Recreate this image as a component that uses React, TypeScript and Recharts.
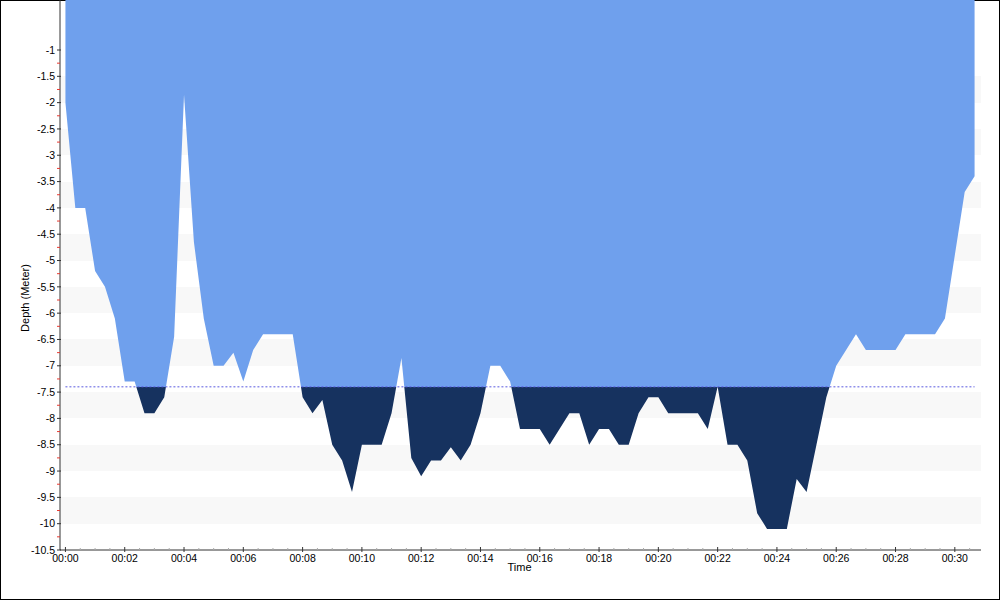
import React from 'react';
import { ComposedChart, Area, XAxis, YAxis, CartesianGrid, ReferenceLine } from 'recharts';

// Time of each sample, in seconds from the start of the dive
const timeSec = [
  0, 20, 40, 60, 80, 100, 120, 140, 160, 180, 200, 220, 240, 260, 280, 300, 320, 340, 360, 380,
  400, 420, 440, 460, 480, 500, 520, 540, 560, 580, 600, 620, 640, 660, 680, 700, 720, 740, 760, 780,
  800, 820, 840, 860, 880, 900, 920, 940, 960, 980, 1000, 1020, 1040, 1060, 1080, 1100, 1120, 1140, 1160, 1180,
  1200, 1220, 1240, 1260, 1280, 1300, 1320, 1340, 1360, 1380, 1400, 1420, 1440, 1460, 1480, 1500, 1520, 1540, 1560, 1580,
  1600, 1620, 1640, 1660, 1680, 1700, 1720, 1740, 1760, 1780, 1800, 1820, 1840,
];

// Depth in meters
const depth = [
  -2.0, -4.0, -4.0, -5.2, -5.5, -6.1, -7.3, -7.3, -7.9, -7.9,
  -7.6, -6.45, -1.85, -4.65, -6.1, -7.0, -7.0, -6.75, -7.3, -6.7,
  -6.4, -6.4, -6.4, -6.4, -7.6, -7.9, -7.65, -8.5, -8.8, -9.4,
  -8.5, -8.5, -8.5, -7.9, -6.85, -8.75, -9.1, -8.8, -8.8, -8.55,
  -8.8, -8.5, -7.9, -7.0, -7.0, -7.3, -8.2, -8.2, -8.2, -8.5,
  -8.2, -7.9, -7.9, -8.5, -8.2, -8.2, -8.5, -8.5, -7.9, -7.6,
  -7.6, -7.9, -7.9, -7.9, -7.9, -8.2, -7.4, -8.5, -8.5, -8.8,
  -9.8, -10.1, -10.1, -10.1, -9.15, -9.4, -8.5, -7.6, -7.0, -6.7,
  -6.4, -6.7, -6.7, -6.7, -6.7, -6.4, -6.4, -6.4, -6.4, -6.1,
  -4.9, -3.7, -3.4,
];

const threshold = -7.4;

const yMajorTicks = [
  -1, -1.5, -2, -2.5, -3, -3.5, -4, -4.5, -5, -5.5, -6, -6.5, -7, -7.5, -8, -8.5, -9, -9.5, -10, -10.5,
];
const yMinorTicks = [
  -1.25, -1.75, -2.25, -2.75, -3.25, -3.75, -4.25, -4.75, -5.25, -5.75, -6.25, -6.75, -7.25, -7.75,
  -8.25, -8.75, -9.25, -9.75, -10.25,
];
const xMajorTicks = [0, 120, 240, 360, 480, 600, 720, 840, 960, 1080, 1200, 1320, 1440, 1560, 1680, 1800];
const xTickLabels = [
  '00:00', '00:02', '00:04', '00:06', '00:08', '00:10', '00:12', '00:14',
  '00:16', '00:18', '00:20', '00:22', '00:24', '00:26', '00:28', '00:30',
];
const xMinorTicks = [
  30, 60, 90, 150, 180, 210, 270, 300, 330, 390, 420, 450, 510, 540, 570, 630, 660, 690, 750, 780, 810,
  870, 900, 930, 990, 1020, 1050, 1110, 1140, 1170, 1230, 1260, 1290, 1350, 1380, 1410, 1470, 1500, 1530,
  1590, 1620, 1650, 1710, 1740, 1770, 1830,
];

const Y_DOMAIN: [number, number] = [-10.5, -0.05];
const X_DOMAIN: [number, number] = [-11, 1853];

const data = timeSec.map((t, i) => ({ t, depth: depth[i] }));

const yAllTicks = [...yMajorTicks, ...yMinorTicks].sort((a, b) => b - a);
const xAllTicks = [...xMajorTicks, ...xMinorTicks].sort((a, b) => a - b);

const LIGHT_BLUE = '#6fa0ed';
const NAVY = '#16325f';
const BAND = '#f8f8f8';
const FONT = 'Tahoma, "Liberation Sans", Arial, sans-serif';

const minDepth = Math.min(...depth);
const splitOffset = (Y_DOMAIN[1] - threshold) / (Y_DOMAIN[1] - minDepth);

// stripe colours: rows above -1.5 white, then alternating grey/white
const stripeFill = Array.from({ length: yMajorTicks.length + 1 }, (_, i) =>
  i >= 2 && i % 2 === 0 ? BAND : 'transparent'
);

const YTick = (props: any) => {
  const { x, y, payload } = props;
  const v = payload.value;
  const major = yMajorTicks.includes(v);
  return (
    <g>
      <line x1={x - 3} x2={major ? x + 1 : x} y1={y} y2={y} stroke={major ? '#333' : '#e8382f'} strokeWidth={1} />
      {major && (
        <text x={x - 5} y={y} dy="0.35em" textAnchor="end" fontSize={10.5} fill="#000" fontFamily={FONT}>
          {String(v)}
        </text>
      )}
    </g>
  );
};

const XTick = (props: any) => {
  const { x, y, payload } = props;
  const v = payload.value;
  const idx = xMajorTicks.indexOf(v);
  const major = idx >= 0;
  return (
    <g>
      <line x1={x} x2={x} y1={major ? y - 3 : y - 2} y2={major ? y + 2 : y} stroke={major ? '#333' : '#aaa'} strokeWidth={1} />
      {major && (
        <text x={x} y={y + 12} textAnchor="middle" fontSize={10.5} fill="#000" fontFamily={FONT}>
          {xTickLabels[idx]}
        </text>
      )}
    </g>
  );
};

const YLabel = (props: any) => {
  const vb = props.viewBox || { x: 0, y: 0, width: 60, height: 550 };
  const cx = vb.x + 25;
  const cy = vb.y + vb.height / 2 + 23;
  return (
    <text
      x={cx}
      y={cy}
      transform={`rotate(-90, ${cx}, ${cy})`}
      textAnchor="middle"
      dy="0.35em"
      fontSize={11}
      fill="#000"
      fontFamily={FONT}
    >
      Depth (Meter)
    </text>
  );
};

const XLabel = (props: any) => {
  const vb = props.viewBox || { x: 60, y: 550, width: 921, height: 30 };
  return (
    <text x={vb.x + vb.width / 2 - 1} y={vb.y + 21} textAnchor="middle" fontSize={11} fill="#000" fontFamily={FONT}>
      Time
    </text>
  );
};

export default function App() {
  return (
    <div style={{ position: 'absolute', left: 0, top: 0, width: 1000, height: 600, background: '#fff', fontFamily: FONT }}>
      <div
        style={{
          position: 'absolute',
          left: 0,
          top: 0,
          width: 1000,
          height: 600,
          boxSizing: 'border-box',
          border: '1px solid #000',
        }}
      />
      <div style={{ position: 'absolute', left: 0, top: 0 }}>
        <ComposedChart width={1000} height={600} data={data} margin={{ top: 0, right: 19, bottom: 20, left: 0 }}>
          <defs>
            <linearGradient id="depthFill" x1="0" y1="0" x2="0" y2="1">
              <stop offset={splitOffset} stopColor={LIGHT_BLUE} />
              <stop offset={splitOffset} stopColor={NAVY} />
            </linearGradient>
          </defs>
          <CartesianGrid
            vertical={false}
            horizontalValues={yMajorTicks}
            horizontalFill={stripeFill}
            fillOpacity={1}
            stroke="none"
          />
          <XAxis
            type="number"
            dataKey="t"
            domain={X_DOMAIN}
            allowDataOverflow
            ticks={xAllTicks}
            interval={0}
            tickSize={0}
            tickMargin={0}
            tickLine={false}
            tick={(p: any) => <XTick {...p} />}
            axisLine={{ stroke: '#333' }}
            height={30}
            label={<XLabel />}
          />
          <YAxis
            type="number"
            domain={Y_DOMAIN}
            allowDataOverflow
            ticks={yAllTicks}
            interval={0}
            tickSize={0}
            tickMargin={0}
            tickLine={false}
            tick={(p: any) => <YTick {...p} />}
            axisLine={{ stroke: '#333' }}
            width={60}
            label={<YLabel />}
          />
          <ReferenceLine
            segment={[
              { x: timeSec[0], y: threshold },
              { x: timeSec[timeSec.length - 1], y: threshold },
            ]}
            stroke="#5a5ae0"
            strokeDasharray="2 2"
            strokeWidth={1}
          />
          <Area
            type="linear"
            dataKey="depth"
            baseValue="dataMax"
            stroke="none"
            fill="url(#depthFill)"
            fillOpacity={1}
            isAnimationActive={false}
            dot={false}
            activeDot={false}
          />
        </ComposedChart>
      </div>
    </div>
  );
}
